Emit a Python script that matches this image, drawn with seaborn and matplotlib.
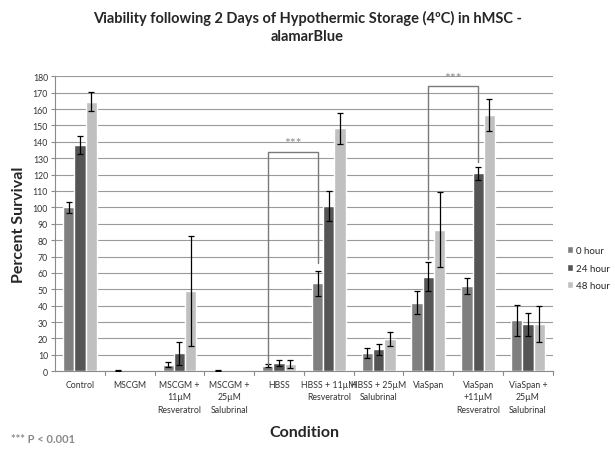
import matplotlib
matplotlib.use("Agg")
import matplotlib.pyplot as plt
import seaborn as sns
import pandas as pd
import numpy as np

conditions = ["Control", "MSCGM", "MSCGM +\n11µM\nResveratrol", "MSCGM +\n25µM\nSalubrinal",
              "HBSS", "HBSS + 11µM\nResveratrol", "HBSS + 25µM\nSalubrinal", "ViaSpan",
              "ViaSpan\n+11µM\nResveratrol", "ViaSpan +\n25µM\nSalubrinal"]
series = ["0 hour", "24 hour", "48 hour"]
vals_0h = [100.0, 0.3, 4.0, 0.3, 3.5, 53.7, 11.4, 41.7, 51.9, 31.1]
vals_24h = [138.0, 0.0, 11.0, 0.0, 5.0, 100.7, 13.4, 57.7, 120.8, 28.7]
vals_48h = [164.5, 0.0, 49.0, 0.0, 4.5, 148.3, 19.7, 86.4, 156.4, 28.7]
err_0h = [3.5, 0.2, 1.5, 0.2, 1.0, 7.7, 3.0, 7.0, 5.0, 9.4]
err_24h = [5.5, 0.0, 7.0, 0.0, 2.0, 9.0, 3.5, 9.0, 4.0, 7.0]
err_48h = [6.0, 0.0, 33.5, 0.0, 2.5, 9.5, 4.0, 23.0, 10.0, 11.0]
colors = ["#7f7f7f", "#555555", "#c0c0c0"]

sns.set_style("white")
plt.rcParams['font.family'] = ['Lato', 'DejaVu Sans']

rows = []
for s, v, e in zip(series, [vals_0h, vals_24h, vals_48h], [err_0h, err_24h, err_48h]):
    for c, vv, ee in zip(conditions, v, e):
        rows.append({"Condition": c, "Time": s, "Value": vv, "Err": ee})
df = pd.DataFrame(rows)

fig = plt.figure(figsize=(6.15, 4.56), dpi=100)
ax = fig.add_axes([0.0894, 0.1836, 0.8095, 0.647])

sns.barplot(data=df, x="Condition", y="Value", hue="Time", palette=colors,
            width=0.68, gap=0, errorbar=None, ax=ax, saturation=1, zorder=3)

centers = {}
for cont, s, errs, vals in zip(ax.containers, series, [err_0h, err_24h, err_48h], [vals_0h, vals_24h, vals_48h]):
    xs = [p.get_x() + p.get_width() / 2 for p in cont.patches]
    centers[s] = xs
    keep = [i for i, e in enumerate(errs) if e > 0]
    ax.errorbar([xs[i] for i in keep], [vals[i] for i in keep], yerr=[errs[i] for i in keep],
                fmt="none", ecolor="black", elinewidth=0.9,
                capsize=2.5, capthick=0.9, zorder=4)

ax.set_ylim(0, 180)
ax.set_xlim(-0.5, len(conditions) - 0.5)
ax.set_yticks(np.arange(0, 181, 10))
ax.yaxis.grid(True, color="#9a9a9a", linewidth=0.8, zorder=0)
ax.set_axisbelow(True)
for sp in ["top", "right"]:
    ax.spines[sp].set_visible(False)
ax.spines["left"].set_color("#8a8a8a")
ax.spines["bottom"].set_color("#8a8a8a")
ax.tick_params(axis="y", labelsize=6.3, colors="#333333", length=3, color="#8a8a8a", pad=2, direction="out", left=True)
ax.tick_params(axis="x", labelsize=6.3, colors="#333333", length=0, pad=6)
ax.set_xticks(range(len(conditions)))
ax.set_xticklabels(conditions, va="top", linespacing=1.55)
for b in np.arange(0.5, len(conditions) - 0.5, 1.0):
    ax.plot([b, b], [0, -2.5], color="#8a8a8a", lw=0.8, clip_on=False)
ax.plot([len(conditions) - 0.5] * 2, [0, -2.5], color="#8a8a8a", lw=0.8, clip_on=False)

ax.set_ylabel("Percent Survival", fontsize=11.5, fontweight="bold", labelpad=5)
ax.set_xlabel("Condition", fontsize=11.5, fontweight="bold", labelpad=8)

br_color = "#7a7a7a"
x1, x2 = centers["0 hour"][4], centers["0 hour"][5]
ax.plot([x1, x1, x2, x2], [4.5, 134, 134, 66], color=br_color, lw=1.0, zorder=5)
ax.text((x1 + x2) / 2, 135.5, "***", ha="center", va="bottom", fontsize=10, color="#8a8a8a")
x1, x2 = centers["24 hour"][7], centers["24 hour"][8]
ax.plot([x1, x1, x2, x2], [68.5, 174, 174, 127.7], color=br_color, lw=1.0, zorder=5)
ax.text((x1 + x2) / 2, 175.5, "***", ha="center", va="bottom", fontsize=10, color="#8a8a8a", clip_on=False)

ax.legend(loc="center left", bbox_to_anchor=(1.01, 0.35), frameon=False, fontsize=7,
          handlelength=0.7, handleheight=0.7, handletextpad=0.3, labelspacing=0.9)

fig.text(0.5, 0.975, "Viability following 2 Days of Hypothermic Storage (4ºC) in hMSC -\nalamarBlue",
         ha="center", va="top", fontsize=10.5, fontweight="bold", linespacing=1.35)
fig.text(0.018, 0.037, "*** P < 0.001", ha="left", va="center", fontsize=8, fontweight="bold", color="#8a8a8a")

fig.savefig("out.png", dpi=100)
